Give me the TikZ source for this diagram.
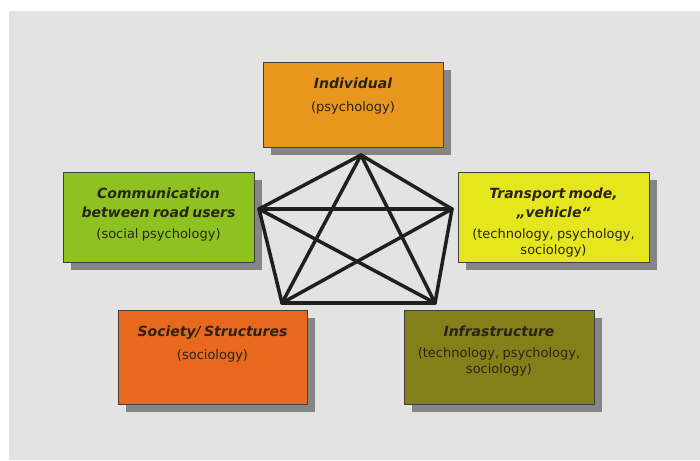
\documentclass[tikz,border=0pt]{standalone}
\usepackage{fontspec}
\setmainfont{DejaVu Sans}[ItalicFont={DejaVu Sans Oblique},BoldItalicFont={DejaVu Sans Bold Oblique}]
\usetikzlibrary{positioning,shadows}

\definecolor{bggray}{HTML}{E3E3E3}
\definecolor{shadowgray}{HTML}{858585}
\definecolor{textdark}{HTML}{2A2418}
\definecolor{indorange}{HTML}{E9961F}
\definecolor{comgreen}{HTML}{8DC220}
\definecolor{traYellow}{HTML}{E6E61E}
\definecolor{socorange}{HTML}{E8691E}
\definecolor{infolive}{HTML}{838019}

\newcommand\boxtitle[1]{{\fontsize{14}{19}\selectfont\bfseries\itshape #1\par}}
\newcommand\boxfield[1]{{\vskip 5pt\fontsize{13}{16}\selectfont #1\par}}

\begin{document}
\begin{tikzpicture}[x=1pt,y=-1pt,
	box/.style={rectangle,draw=black!75,line width=0.9pt,
		drop shadow={shadow xshift=8pt,shadow yshift=-8pt,fill=shadowgray,opacity=1}},
	lbl/.style={text width=186pt,align=center,inner sep=0pt,text=textdark},
	link/.style={line width=3.5pt,draw=black!88,line cap=round}]

\useasboundingbox (0,0) rectangle (700,460);
\fill[bggray] (9,11) rectangle (700,460);

\node[box,fill=indorange,minimum width=180pt,minimum height=85pt]   (ind) at (353,104.5)   {};
\node[box,fill=comgreen,minimum width=191pt,minimum height=90pt]    (com) at (158.5,217)   {};
\node[box,fill=traYellow,minimum width=191pt,minimum height=90pt]   (tra) at (553.5,217)   {};
\node[box,fill=socorange,minimum width=189pt,minimum height=94pt]   (soc) at (212.5,357)   {};
\node[box,fill=infolive,minimum width=190pt,minimum height=94pt]    (inf) at (499,357)     {};

\node[lbl,below=16pt of ind.north]   (indL)   {\boxtitle{Individual}\boxfield{\vskip 2pt(psychology)}};
\node[lbl,below=16pt of com.north]   (comL)   {\boxtitle{Communication\\between road users}\boxfield{(social psychology)}};
\node[lbl,below=16pt of tra.north]   (traL)   {\boxtitle{Transport mode,\\„vehicle“}\boxfield{(technology, psychology,\\sociology)}};
\node[lbl,below=16pt of soc.north]   (socL)   {\boxtitle{Society/ Structures}\boxfield{\vskip 2pt(sociology)}};
\node[lbl,below=16pt of inf.north]   (infL)   {\boxtitle{Infrastructure}\boxfield{(technology, psychology,\\sociology)}};

% corners of the pentagram
\coordinate (vI) at (361,155);
\coordinate (vC) at (259,209);
\coordinate (vT) at (452,209);
\coordinate (vS) at (282,303);
\coordinate (vF) at (435,303);

	\path[link] (vI)  edge (vC)
						edge (vT)
						edge (vS)
						edge (vF)
				(vC)  edge (vT)
						edge (vS)
						edge (vF)
				(vT)  edge (vS)
						edge (vF)
				(vS)  edge (vF);

\end{tikzpicture}
\end{document}
